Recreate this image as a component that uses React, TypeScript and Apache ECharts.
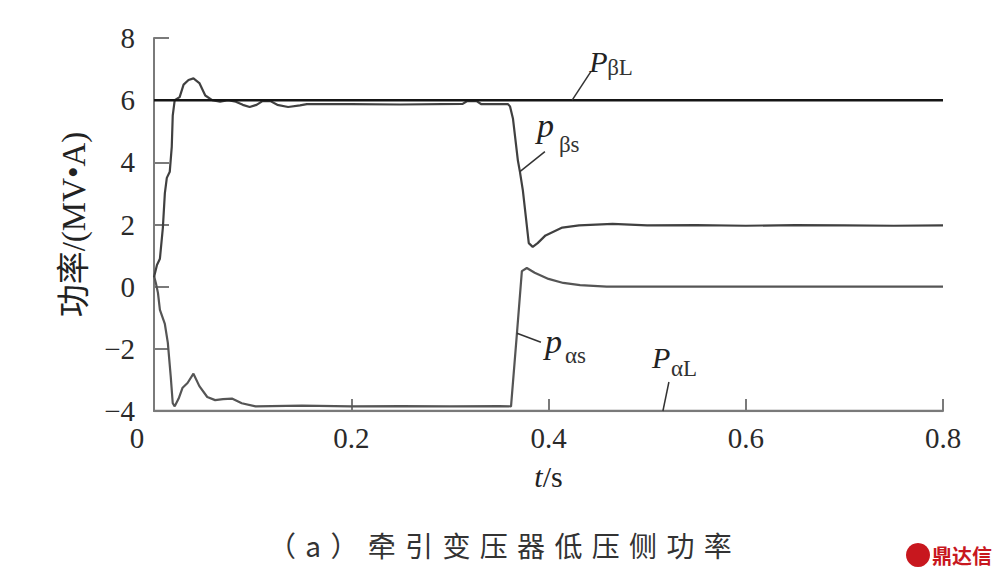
import React, { useEffect, useRef } from "react";
import * as echarts from "echarts";

// ---- data ----
const xTicks = [0, 0.2, 0.4, 0.6, 0.8];
const yTicks = [-4, -2, 0, 2, 4, 6, 8];

const tBetaL = [0, 0.8];
const pBetaL = [6, 6];

const tAlphaL = [0, 0.8];
const pAlphaL = [-4, -4];

const tBetaS = [
  0, 0.003, 0.006, 0.009, 0.011, 0.013, 0.016, 0.018, 0.019, 0.021, 0.026, 0.03, 0.035, 0.04,
  0.046, 0.052, 0.059, 0.067, 0.075, 0.083, 0.09, 0.097, 0.104, 0.11, 0.118, 0.125, 0.136,
  0.148, 0.155, 0.2, 0.25, 0.313, 0.318, 0.327, 0.332, 0.359, 0.361, 0.364, 0.369, 0.371,
  0.374, 0.377, 0.38, 0.384, 0.389, 0.397, 0.414, 0.431, 0.465, 0.5, 0.55, 0.6, 0.65, 0.7,
  0.75, 0.8,
];
const pBetaS = [
  0.3, 0.7, 0.9, 1.9, 3.0, 3.5, 3.7, 4.5, 5.5, 6.0, 6.1, 6.5, 6.65, 6.7,
  6.55, 6.15, 6.0, 5.95, 6.0, 5.95, 5.85, 5.78, 5.85, 5.97, 5.97, 5.85, 5.78,
  5.83, 5.87, 5.87, 5.86, 5.88, 5.98, 5.97, 5.87, 5.87, 5.8, 5.4, 4.05, 3.7,
  3.1, 2.25, 1.4, 1.28, 1.4, 1.65, 1.9, 1.97, 2.02, 1.97, 1.98, 1.96, 1.98, 1.97,
  1.96, 1.97,
];

const tAlphaS = [
  0, 0.002, 0.004, 0.006, 0.011, 0.014, 0.017, 0.019, 0.021, 0.025, 0.029, 0.034, 0.04,
  0.046, 0.054, 0.062, 0.07, 0.079, 0.089, 0.103, 0.15, 0.2, 0.25, 0.3, 0.35, 0.362,
  0.368, 0.373, 0.378, 0.386, 0.4, 0.415, 0.432, 0.459, 0.6, 0.8,
];
const pAlphaS = [
  0.35, 0.1, -0.2, -0.75, -1.2, -1.8, -2.9, -3.75, -3.85, -3.6, -3.25, -3.1, -2.8,
  -3.2, -3.55, -3.65, -3.62, -3.6, -3.75, -3.85, -3.83, -3.85, -3.84, -3.85, -3.84, -3.85,
  -1.5, 0.5, 0.6, 0.45, 0.25, 0.12, 0.05, 0.0, 0.0, 0.0,
];

const annotations = [
  { main: "P", mainSize: 30, sub: "βL", t: 0.424, v: 6, dx: 19, dy: -29, mx: -2, my: -10, sx: 16, sy: -4 },
  { main: "p", mainSize: 34, sub: "βs", t: 0.371, v: 3.7, dx: 25, dy: -20, mx: -8, my: -26, sx: 14, sy: -7 },
  { main: "p", mainSize: 34, sub: "αs", t: 0.368, v: -1.5, dx: 24, dy: 9, mx: 4, my: -1, sx: 24, sy: 13 },
  { main: "P", mainSize: 30, sub: "αL", t: 0.516, v: -4, dx: 6, dy: -29, mx: -17, my: -25, sx: 2, sy: -14 },
];

const caption = "（\u2004a\u2004）\u2004" + "牵引变压器低压侧功率".split("").join("\u2004");

const zip = (t: number[], v: number[]) => t.map((x, i) => [x, v[i]]);

const SERIF = "Liberation Serif";
const numStyle = { fontFamily: SERIF, fontSize: 29, color: "#2a2a2a" };

export default function App() {
  const ref = useRef<HTMLDivElement>(null);

  useEffect(() => {
    const chart = echarts.init(ref.current!, null, { renderer: "svg" });
    const lineBase = { type: "line", showSymbol: false, symbol: "none", silent: true };
    chart.setOption({
      animation: false,
      backgroundColor: "#ffffff",
      textStyle: { fontFamily: SERIF },
      grid: { left: 154, right: 58, top: 38, bottom: 170, containLabel: false },
      xAxis: {
        type: "value",
        min: xTicks[0],
        max: xTicks[xTicks.length - 1],
        interval: 0.2,
        name: "{i|t}{n|/s}",
        nameLocation: "middle",
        nameGap: 50,
        nameTextStyle: {
          fontFamily: SERIF,
          fontSize: 30,
          color: "#222",
          rich: {
            i: { fontFamily: SERIF, fontStyle: "italic", fontSize: 30, color: "#222" },
            n: { fontFamily: SERIF, fontSize: 30, color: "#222" },
          },
        },
        axisLine: { show: true, onZero: false, lineStyle: { color: "#7a7a7a", width: 2 } },
        axisTick: { show: true, inside: true, length: 12, lineStyle: { color: "#7a7a7a", width: 2 } },
        splitLine: { show: false },
        axisLabel: {
          margin: 12,
          ...numStyle,
          formatter: (v: number) => (v === 0 ? "{z|0}" : "{n|" + v.toFixed(1) + "}"),
          rich: { z: { ...numStyle, padding: [0, 34, 0, 0] }, n: { ...numStyle } },
        },
      },
      yAxis: {
        type: "value",
        min: yTicks[0],
        max: yTicks[yTicks.length - 1],
        interval: 2,
        name: "功率/(MV•A)",
        nameLocation: "middle",
        nameGap: 64,
        nameTextStyle: {
          fontFamily: "Liberation Serif, Noto Sans CJK SC",
          fontSize: 33,
          color: "#222",
        },
        axisLine: { show: true, onZero: false, lineStyle: { color: "#7a7a7a", width: 2 } },
        axisTick: { show: true, inside: true, length: 15, lineStyle: { color: "#7a7a7a", width: 2 } },
        splitLine: { show: false },
        axisLabel: {
          margin: 19,
          ...numStyle,
          formatter: (v: number) => "{n|" + String(v).replace("-", "\u2212") + "}",
          rich: { n: { ...numStyle } },
        },
      },
      series: [
        { ...lineBase, name: "PαL", data: zip(tAlphaL, pAlphaL), lineStyle: { color: "#7a7a7a", width: 2.5 }, z: 2 },
        { ...lineBase, name: "pαs", data: zip(tAlphaS, pAlphaS), lineStyle: { color: "#555555", width: 2.2 }, z: 3 },
        { ...lineBase, name: "pβs", data: zip(tBetaS, pBetaS), lineStyle: { color: "#404040", width: 2.2 }, z: 3 },
        { ...lineBase, name: "PβL", data: zip(tBetaL, pBetaL), lineStyle: { color: "#151515", width: 2.5 }, z: 4 },
      ],
    });

    const graphics: any[] = [];
    for (const a of annotations) {
      const p = chart.convertToPixel({ gridIndex: 0 }, [a.t, a.v]) as number[];
      const ex = p[0] + a.dx;
      const ey = p[1] + a.dy;
      graphics.push({
        type: "line",
        silent: true,
        shape: { x1: p[0], y1: p[1], x2: ex, y2: ey },
        style: { stroke: "#333", lineWidth: 1.5 },
        z: 10,
      });
      graphics.push({
        type: "text",
        silent: true,
        x: ex + a.mx,
        y: ey + a.my,
        style: {
          text: a.main,
          fontFamily: SERIF,
          fontStyle: "italic",
          fontSize: a.mainSize,
          fill: "#222",
          align: "left",
          verticalAlign: "middle",
        },
        z: 10,
      });
      graphics.push({
        type: "text",
        silent: true,
        x: ex + a.sx,
        y: ey + a.sy,
        style: {
          text: a.sub,
          fontFamily: SERIF,
          fontSize: 23,
          fill: "#333",
          align: "left",
          verticalAlign: "middle",
        },
        z: 10,
      });
    }
    graphics.push({
      type: "text",
      silent: true,
      x: 268,
      y: 545,
      style: {
        text: caption,
        fontFamily: "Noto Sans CJK SC",
        fontSize: 28,
        fill: "#333",
        align: "left",
        verticalAlign: "middle",
      },
    });
    graphics.push({
      type: "circle",
      silent: true,
      shape: { cx: 918, cy: 555, r: 12 },
      style: { fill: "#c8171e" },
    });
    graphics.push({
      type: "text",
      silent: true,
      x: 932,
      y: 555,
      style: {
        text: "鼎达信",
        fontFamily: "Noto Sans CJK SC",
        fontWeight: "bold",
        fontSize: 20,
        fill: "#c8171e",
        align: "left",
        verticalAlign: "middle",
      },
    });
    chart.setOption({ graphic: graphics });

    return () => chart.dispose();
  }, []);

  return (
    <div
      ref={ref}
      style={{ position: "fixed", left: 0, top: 0, width: 1001, height: 581, background: "#fff" }}
    />
  );
}
